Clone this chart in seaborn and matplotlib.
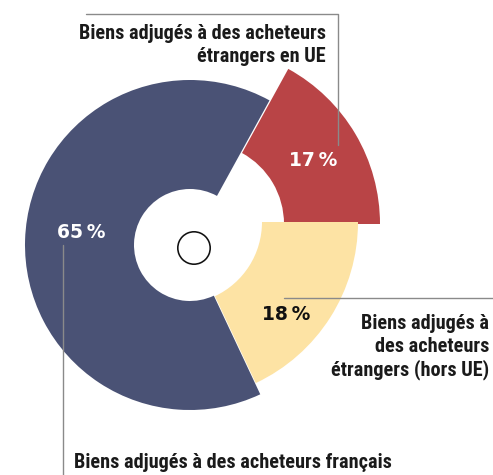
import numpy as np
import matplotlib
matplotlib.use("Agg")
import matplotlib.pyplot as plt
import seaborn as sns

# data (share of lots, %)
parts = ["Biens adjugés à des acheteurs\nétrangers en UE",
         "Biens adjugés à des acheteurs français",
         "Biens adjugés à\ndes acheteurs\nétrangers (hors UE)"]
shares = [17, 65, 18]
pct_text = ["17\u2009%", "65\u2009%", "18\u2009%"]
colors = ["#B94446", "#4A5275", "#FDE3A4"]

sns.set_theme(style="white")
plt.rcParams["font.family"] = ["Roboto Condensed", "DejaVu Sans"]

fig = plt.figure(figsize=(4.93, 4.75), dpi=100)
ax = fig.add_axes([0, 0, 1, 1])

# each slice is drawn on its own ring (pixel-like units, y downwards)
rings = [dict(center=(203, 224), radius=177, width=96),
         dict(center=(190, 245), radius=165, width=109),
         dict(center=(180, 222), radius=178, width=96)]

for k, ring in enumerate(rings):
    cols = [c if i == k else "none" for i, c in enumerate(colors)]
    ax.pie(shares, colors=cols, startangle=0, counterclock=False,
           center=ring["center"], radius=ring["radius"],
           wedgeprops=dict(width=ring["width"], linewidth=0))

# little ring in the middle
ax.pie([1], colors=["#111111"], center=(194, 248), radius=17,
       wedgeprops=dict(width=1.6, linewidth=0))

ax.set_xlim(0, 493)
ax.set_ylim(475, 0)
ax.set_aspect("equal")
ax.axis("off")

lab = dict(fontweight="heavy", color="#1a1a1a", fontsize=14.6)
pct = dict(fontweight="bold", fontsize=13.5, family="DejaVu Sans")

# leader lines
lc = dict(color="#8a8a8a", lw=1)
ax.plot([86, 338, 338], [14, 14, 145], **lc)
ax.plot([284, 493], [298, 298], **lc)
ax.plot([63, 63], [245, 475], **lc)

ax.text(326, 45, parts[0], ha="right", va="center", linespacing=1.25, **lab)
ax.text(74, 463, parts[1], ha="left", va="center", **lab)
ax.text(489, 347, parts[2], ha="right", va="center", linespacing=1.25, **lab)

ax.text(313, 160, pct_text[0], ha="center", va="center", color="white", **pct)
ax.text(81, 233, pct_text[1], ha="center", va="center", color="white", **pct)
ax.text(286, 315, pct_text[2], ha="center", va="center", color="#111111", **pct)

fig.savefig("out.png", dpi=100, facecolor="white")
